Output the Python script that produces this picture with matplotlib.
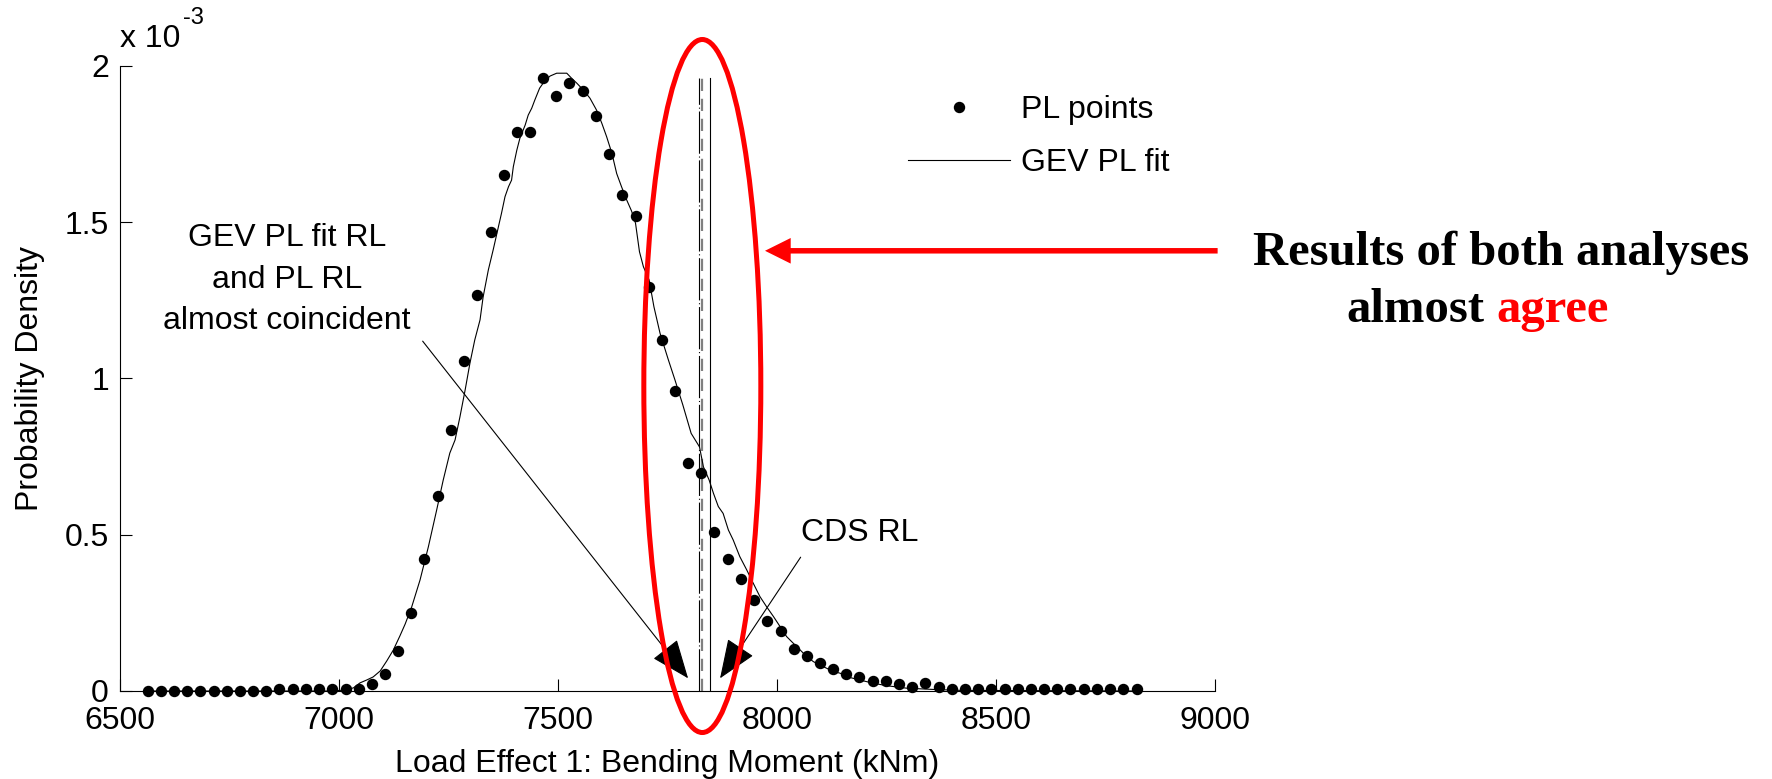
import matplotlib
matplotlib.use("Agg")
import matplotlib.pyplot as plt
from matplotlib.patches import Ellipse, FancyArrow

plt.rcParams['font.family'] = ['Liberation Sans', 'DejaVu Sans']

# ---------------- data (probability density in units of 1e-3) ----------------
pl_x = [6563, 6593, 6623, 6653, 6683, 6714, 6744, 6774, 6804, 6834,
        6864, 6894, 6924, 6954, 6984, 7015, 7045, 7075, 7105, 7135,
        7165, 7195, 7225, 7255, 7285, 7316, 7346, 7376, 7406, 7436,
        7466, 7496, 7526, 7556, 7586, 7617, 7647, 7677, 7707, 7737,
        7767, 7797, 7827, 7857, 7887, 7918, 7948, 7978, 8008, 8038,
        8068, 8098, 8128, 8158, 8188, 8219, 8249, 8279, 8309, 8339,
        8369, 8399, 8429, 8459, 8489, 8520, 8550, 8580, 8610, 8640,
        8670, 8700, 8730, 8760, 8790, 8821]
pl_y = [0.000, 0.000, 0.000, 0.000, 0.000, 0.000, 0.000, 0.000, 0.000, 0.000,
        0.006, 0.006, 0.006, 0.006, 0.006, 0.005, 0.005, 0.022, 0.054, 0.127,
        0.249, 0.421, 0.625, 0.836, 1.055, 1.268, 1.469, 1.650, 1.789, 1.789,
        1.960, 1.903, 1.944, 1.919, 1.838, 1.717, 1.585, 1.520, 1.293, 1.122,
        0.960, 0.730, 0.697, 0.510, 0.421, 0.357, 0.291, 0.225, 0.192, 0.135,
        0.112, 0.089, 0.071, 0.055, 0.046, 0.031, 0.032, 0.022, 0.014, 0.024,
        0.014, 0.005, 0.005, 0.005, 0.005, 0.005, 0.005, 0.005, 0.005, 0.005,
        0.005, 0.005, 0.005, 0.005, 0.005, 0.005]

fit_x = [6563, 6980, 7014, 7033, 7048, 7063, 7078, 7094, 7109, 7124,
         7139, 7151, 7166, 7185, 7204, 7223, 7238, 7253, 7265, 7276,
         7288, 7299, 7310, 7322, 7329, 7341, 7352, 7364, 7371, 7379,
         7387, 7394, 7398, 7406, 7413, 7425, 7432, 7440, 7447, 7458,
         7470, 7482, 7497, 7520, 7531, 7543, 7558, 7573, 7588, 7600,
         7611, 7623, 7634, 7645, 7657, 7668, 7677, 7686, 7695, 7708,
         7719, 7733, 7752, 7767, 7785, 7804, 7823, 7832, 7845, 7855,
         7866, 7877, 7889, 7900, 7915, 7931, 7946, 7961, 7976, 7992,
         8007, 8022, 8037, 8053, 8068, 8083, 8098, 8113, 8129, 8144,
         8159, 8189, 8220, 8250, 8296, 8357, 8420, 8821]
fit_y = [0.000, 0.000, 0.003, 0.010, 0.026, 0.035, 0.045, 0.064, 0.096, 0.131,
         0.176, 0.214, 0.269, 0.355, 0.461, 0.579, 0.675, 0.761, 0.803, 0.876,
         0.963, 1.049, 1.123, 1.187, 1.260, 1.347, 1.411, 1.485, 1.528, 1.581,
         1.613, 1.634, 1.677, 1.730, 1.768, 1.810, 1.842, 1.864, 1.890, 1.928,
         1.952, 1.967, 1.976, 1.976, 1.960, 1.944, 1.922, 1.896, 1.858, 1.816,
         1.773, 1.720, 1.655, 1.613, 1.570, 1.535, 1.496, 1.405, 1.357, 1.315,
         1.229, 1.144, 1.059, 0.995, 0.915, 0.824, 0.781, 0.717, 0.675, 0.632,
         0.590, 0.568, 0.515, 0.483, 0.430, 0.387, 0.344, 0.302, 0.270, 0.238,
         0.206, 0.174, 0.153, 0.131, 0.110, 0.094, 0.083, 0.073, 0.062, 0.057,
         0.046, 0.035, 0.025, 0.017, 0.009, 0.005, 0.002, 0.000]

# return levels (kNm)
rl_gev_fit = 7823
rl_pl = 7829
rl_cds = 7846
rl_top = 1.96

x_ticks = [6500, 7000, 7500, 8000, 8500, 9000]
y_ticks = [0, 0.5, 1, 1.5, 2]
y_tick_labels = ['0', '0.5', '1', '1.5', '2']

# ---------------- figure ----------------
W, H, DPI = 1772, 779, 100
fig = plt.figure(figsize=(W / DPI, H / DPI), dpi=DPI)
ax = fig.add_axes([120 / W, 1 - 691 / H, 1095 / W, 625.3 / H])

fit_line, = ax.plot(fit_x, fit_y, color='black', lw=0.8, zorder=3)
dots, = ax.plot(pl_x, pl_y, 'o', color='black', ms=7.2, mec='black', zorder=4,
                clip_on=False)

ax.plot([rl_gev_fit, rl_gev_fit], [0, rl_top], color='black', lw=0.8,
        dashes=(38, 2.5, 1, 2.5), zorder=2)
ax.plot([rl_pl, rl_pl], [0, rl_top], color='#808080', lw=1.6,
        dashes=(5.5, 3.5), zorder=2)
ax.plot([rl_cds, rl_cds], [0, rl_top], color='black', lw=0.8, zorder=2)

ax.set_xlim(6500, 9000)
ax.set_ylim(0, 2)
ax.set_xticks(x_ticks)
ax.set_xticklabels([str(v) for v in x_ticks])
ax.set_yticks(y_ticks)
ax.set_yticklabels(y_tick_labels)
for s in ['top', 'right']:
    ax.spines[s].set_visible(False)
for s in ['left', 'bottom']:
    ax.spines[s].set_linewidth(0.8)
ax.tick_params(direction='in', length=8.6, width=0.8, labelsize=23)
ax.tick_params(axis='x', pad=11)
ax.tick_params(axis='y', pad=8)

ax.set_xlabel('Load Effect 1: Bending Moment (kNm)', fontsize=23, va='baseline')
ax.xaxis.set_label_coords(0.5, (691 - 771.7) / 625.3)
ax.set_ylabel('Probability Density', fontsize=23)
ax.yaxis.set_label_coords((45 - 120) / 1095, 0.5)

# exponent text
fig.text(120.5 / W, 1 - 46.7 / H, 'x 10', fontsize=23, va='baseline', ha='left')
fig.text(183 / W, 1 - 24 / H, '-3', fontsize=17, va='baseline', ha='left')

# legend
leg = ax.legend([dots, fit_line], ['PL points', 'GEV PL fit'], frameon=False,
                fontsize=23, loc='upper left',
                bbox_to_anchor=(908 / W, 1 - 95 / H), bbox_transform=fig.transFigure,
                borderpad=0, borderaxespad=0, handlelength=3.18,
                handletextpad=0.36, labelspacing=0.72, numpoints=1)

# annotations
arrow_style = '-|>,head_length=2.5,head_width=1.0'
ax.text(6881, 1.315, 'GEV PL fit RL\nand PL RL\nalmost coincident', fontsize=23,
        ha='center', va='center', multialignment='center', linespacing=1.5)
ax.annotate('', xy=(7797, 0.0406), xytext=(7191, 1.119),
            arrowprops=dict(arrowstyle=arrow_style, mutation_scale=10,
                            color='black', lw=0.8, shrinkA=0, shrinkB=0),
            annotation_clip=False)
ax.text(8190, 0.505, 'CDS RL', fontsize=23, ha='center', va='center')
ax.annotate('', xy=(7870, 0.0406), xytext=(8054, 0.428),
            arrowprops=dict(arrowstyle=arrow_style, mutation_scale=10,
                            color='black', lw=0.8, shrinkA=0, shrinkB=0),
            annotation_clip=False)

# red highlight
ax.add_patch(Ellipse((7829.5, 0.9755), width=267.1, height=2.2166, fill=False,
                     edgecolor='red', lw=3.6, clip_on=False, zorder=6))
ax.add_patch(FancyArrow(9006, 1.408, 7972.6 - 9006, 0, width=5.5 / 312.65,
                        head_width=25.6 / 312.65, head_length=25.7 / 0.438,
                        length_includes_head=True, color='red', lw=0,
                        clip_on=False, zorder=6))

fig.text(1501 / W, 1 - 265 / H, 'Results of both analyses', fontsize=35,
         family='Liberation Serif', weight='bold', ha='center', va='baseline')
fig.text(1346 / W, 1 - 321.7 / H, 'almost', fontsize=35,
         family='Liberation Serif', weight='bold', ha='left', va='baseline')
fig.text(1496 / W, 1 - 321.7 / H, 'agree', fontsize=35, color='red',
         family='Liberation Serif', weight='bold', ha='left', va='baseline')

fig.savefig('out.png', dpi=DPI)
